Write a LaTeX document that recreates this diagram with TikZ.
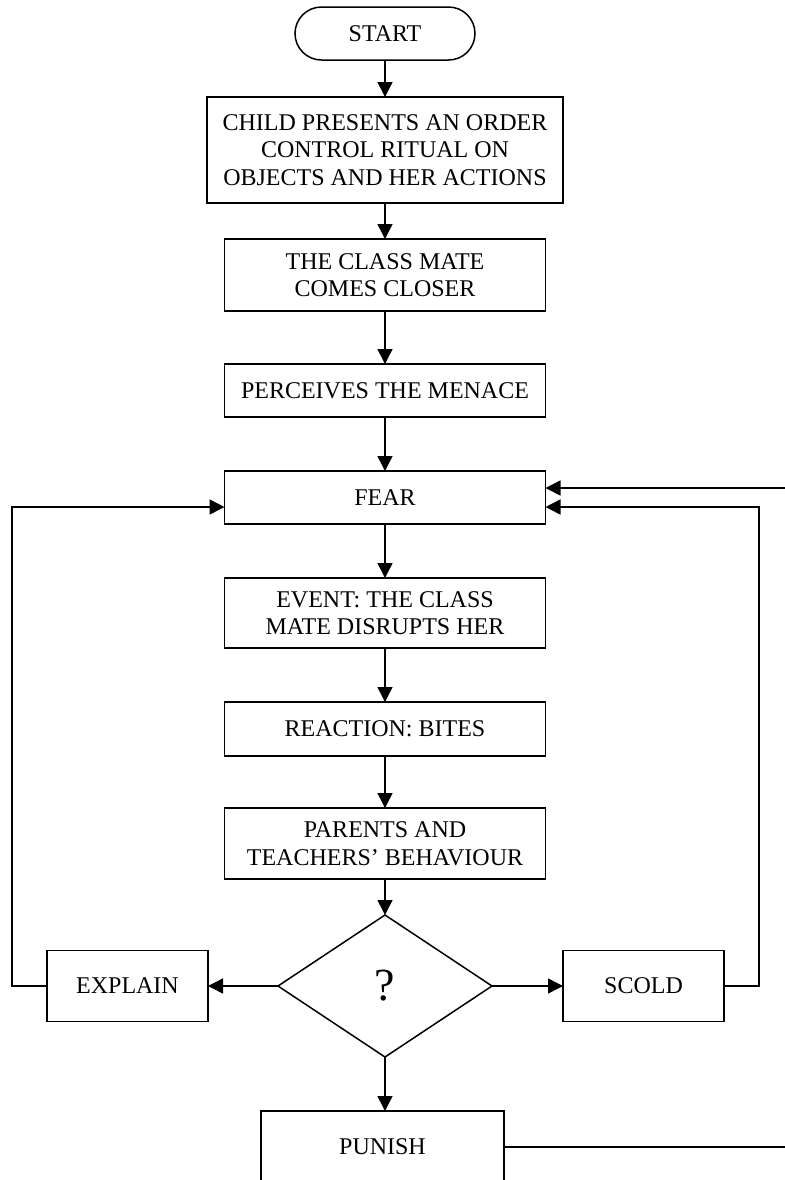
\documentclass[tikz,border=0pt]{standalone}
\usepackage{fontspec}
\setmainfont{Liberation Serif}
\usetikzlibrary{positioning}
\usetikzlibrary{shapes.geometric}
\usetikzlibrary{arrows.meta}

\begin{document}
\begin{tikzpicture}[line width=0.75pt, font=\fontsize{12}{13.8}\selectfont,
    every node/.style={draw=black, align=center, inner sep=2pt, outer sep=0pt},
    flow/.style={-{Triangle[length=7.5pt,width=7.5pt]}}]
  \useasboundingbox (0,0) rectangle (392.5pt,-590pt);
  \clip (0,0) rectangle (392.5pt,-590pt);
  \node[minimum width=90pt, minimum height=26.5pt, rounded corners=13.25pt] (start) at (192.5pt,-16.75pt) {START};
  \begin{scope}[minimum width=160.5pt]
    \node[minimum width=178pt, minimum height=53pt, below=18.5pt of start] (ritual)
      {CHILD PRESENTS AN ORDER\\CONTROL RITUAL ON\\OBJECTS AND HER ACTIONS};
    \node[minimum height=36pt, below=18pt of ritual] (closer)
      {THE CLASS MATE\\COMES CLOSER};
    \node[minimum height=26.5pt, below=26.5pt of closer] (menace)
      {PERCEIVES THE MENACE};
    \node[minimum height=26.5pt, below=27pt of menace] (fear)
      {FEAR};
    \node[minimum height=35pt, below=27pt of fear] (event)
      {EVENT: THE CLASS\\MATE DISRUPTS HER};
    \node[minimum height=27pt, below=27pt of event] (reaction)
      {REACTION: BITES};
    \node[minimum height=35.5pt, below=26pt of reaction] (parents)
      {PARENTS AND\\TEACHERS’ BEHAVIOUR};
  \end{scope}
  \node[diamond, minimum width=107pt, minimum height=71pt, inner sep=0pt,
    font=\fontsize{23}{25}\selectfont, below=18pt of parents] (decide) {?};
  \begin{scope}[minimum width=80.5pt, minimum height=35.5pt]
    \node[left=35pt of decide] (explain) {EXPLAIN};
    \node[right=35.5pt of decide] (scold) {SCOLD};
  \end{scope}
  \node[minimum width=121.5pt, minimum height=36pt, below=27pt of decide, xshift=-1.25pt] (punish) {PUNISH};
  \coordinate (leftx) at (6pt,0);
  \coordinate (rightx) at (379.5pt,0);
  \coordinate (farx) at (402pt,0);

  \draw[flow] (start) -- (ritual);
  \draw[flow] (ritual) -- (closer);
  \draw[flow] (closer) -- (menace);
  \draw[flow] (menace) -- (fear);
  \draw[flow] (fear) -- (event);
  \draw[flow] (event) -- (reaction);
  \draw[flow] (reaction) -- (parents);
  \draw[flow] (parents) -- (decide);
  \draw[flow] (decide) -- (explain);
  \draw[flow] (decide) -- (scold);
  \draw[flow] (decide.south) -- (decide.south |- punish.north);
  \draw[flow] (explain.west) -- (explain.west -| leftx) |- ([yshift=-4.75pt]fear.west);
  \draw[flow] (scold.east) -- (scold.east -| rightx) |- ([yshift=-4.75pt]fear.east);
  \draw[flow] (punish.east) -- (punish.east -| farx) |- ([yshift=4.75pt]fear.east);
\end{tikzpicture}
\end{document}
